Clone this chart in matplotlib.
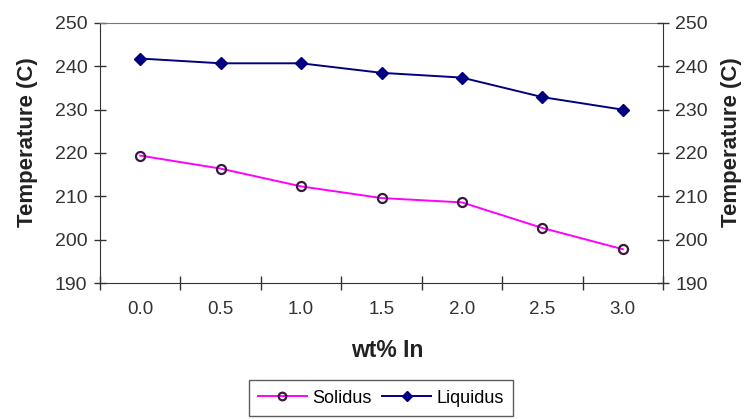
import matplotlib
matplotlib.use("Agg")
import matplotlib.pyplot as plt
import numpy as np

plt.rcParams['font.family'] = ['Liberation Sans', 'DejaVu Sans']

categories = ["0.0", "0.5", "1.0", "1.5", "2.0", "2.5", "3.0"]
solidus = [219.4, 216.4, 212.3, 209.6, 208.6, 202.7, 197.8]
liquidus = [241.8, 240.7, 240.7, 238.5, 237.4, 232.9, 230.0]
yticks = [190, 200, 210, 220, 230, 240, 250]

fig = plt.figure(figsize=(7.48, 4.19), dpi=100)
W, H = 748, 419
ax = fig.add_axes([100 / W, (H - 283) / H, (663 - 100) / W, (283 - 23) / H])

x = np.arange(len(categories))
ax.plot(x, solidus, color='#FF00FF', lw=1.4, marker='o', ms=6.5,
        mfc='none', mec='#3a1a3a', mew=1.6, label='Solidus', zorder=3)
ax.plot(x, liquidus, color='#000080', lw=1.4, marker='D', ms=6.5,
        mfc='#000080', mec='#000080', label='Liquidus', zorder=3)

ax.set_xlim(-0.5, len(categories) - 0.5)
ax.set_ylim(190, 250)
ax.set_yticks(yticks)
ax.set_xticks(x)
ax.set_xticklabels(categories)
ax.set_xticks(np.arange(-0.5, len(categories) + 0.5, 1.0), minor=True)
ax.tick_params(axis='x', which='major', length=0, pad=13, labelsize=13.5, labelcolor='#333333')
ax.tick_params(axis='x', which='minor', length=10, direction='inout', width=1, color='#333333')
ax.tick_params(axis='y', which='major', length=8, direction='inout', width=1, color='#333333',
               labelsize=14, labelcolor='#333333', pad=5)

for s in ['left', 'bottom']:
    ax.spines[s].set_color('#333333')
ax.spines['top'].set_color('#777777')
ax.spines['right'].set_visible(False)

ax.set_ylabel('Temperature (C)', fontsize=16, fontweight='bold', color='#222222')
ax.yaxis.set_label_coords(-0.128, 0.54)
ax.set_xlabel('wt% In', fontsize=16.5, fontweight='bold', color='#222222')
ax.xaxis.set_label_coords(0.51, -0.258)
ax.xaxis.label.set_va('center')

ax2 = ax.twinx()
ax2.set_ylim(190, 250)
ax2.set_yticks(yticks)
ax2.tick_params(axis='y', which='major', length=8, direction='inout', width=1, color='#333333',
                labelsize=14, labelcolor='#333333', pad=5)
ax2.spines['right'].set_color('#333333')
for s in ['left', 'top', 'bottom']:
    ax2.spines[s].set_visible(False)
ax2.set_ylabel('Temperature (C)', fontsize=16, fontweight='bold', color='#222222')
ax2.yaxis.set_label_coords(1.121, 0.54)
ax.yaxis.label.set_va('center')
ax2.yaxis.label.set_va('center')

leg = fig.legend(handles=ax.get_lines(), loc='center', ncol=2,
                 bbox_to_anchor=(381 / W, 1 - 398 / H), frameon=True, fancybox=False,
                 fontsize=13, handlelength=2.7, columnspacing=0.6, handletextpad=0.3,
                 borderpad=0.5, edgecolor='#333333')
leg.get_frame().set_linewidth(1.0)
for line in leg.get_lines():
    line.set_markersize(5.5)

fig.savefig('out.png', dpi=100)
